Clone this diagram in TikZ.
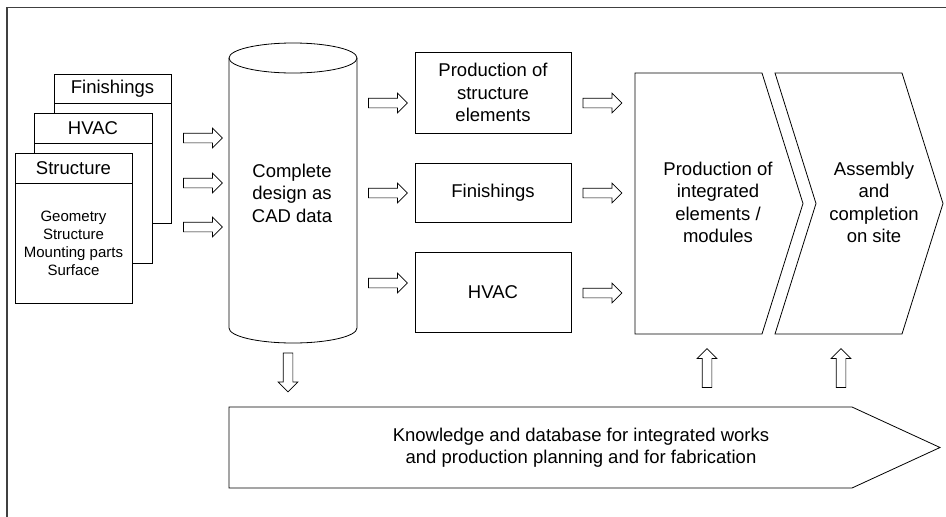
\documentclass[tikz,border=0pt]{standalone}
\usepackage{fontspec}
\setmainfont{Liberation Sans}
\usetikzlibrary{shapes.arrows}

\tikzset{
  card/.style={draw, fill=white, line width=0.8pt},
  flow/.style={single arrow, draw, line width=0.7pt, fill=white, minimum height=39pt,
    inner xsep=0pt, inner ysep=4.5pt, single arrow head extend=5pt, single arrow tip angle=90},
  big/.style={font=\fontsize{18.5}{22.5}\selectfont, align=center},
  small/.style={font=\fontsize{15}{18}\selectfont, align=center}
}

\begin{document}
\begin{tikzpicture}[x=1pt, y=-1pt]
  \useasboundingbox (0,0) rectangle (946,517);
  % frame
  \draw[line width=1.2pt, black!75] (7,517) -- (7,7.5) -- (946,7.5);
  % stacked sheets
  \draw[card] (54,74) rectangle (171,223);
  \draw[card] (54,103) -- (171,103);
  \node[big] (finsheet) at (112.5,88.5) {Finishings};
  \draw[card] (34,113) rectangle (152,263);
  \draw[card] (34,143) -- (152,143);
  \node[big] (hvacsheet) at (93,128) {HVAC};
  \draw[card] (15,153) rectangle (132,303);
  \draw[card] (15,183) -- (132,183);
  \node[big] (strsheet) at (73.5,168) {Structure};
  \node[small] (strlist) at (73.5,243) {Geometry\\Structure\\Mounting parts\\Surface};
  \node[flow] (a1) at (200.5,138) {};
  \node[flow] (a2) at (200.5,183) {};
  \node[flow] (a3) at (200.5,227) {};
  % cylinder
  \draw[card] (229,58) -- (229,328) arc [x radius=64, y radius=15, start angle=180, end angle=0]
    -- (357,58);
  \draw[card] (293,58) ellipse [x radius=64, y radius=15];
  \node[big] (cad) at (292,193) {Complete\\design as\\CAD data};
  \node[flow] (b1) at (385.5,103) {};
  \node[flow] (b2) at (385.5,193) {};
  \node[flow] (b3) at (385.5,283) {};
  % production boxes
  \draw[card] (415,52) rectangle (571,133);
  \node[big] (pstr) at (493,92.5) {Production of\\structure\\elements};
  \draw[card] (415,163) rectangle (571,222);
  \node[big] (pfin) at (493,192.5) {Finishings};
  \draw[card] (415,252) rectangle (571,332);
  \node[big] (phvac) at (493,292) {HVAC};
  \node[flow] (c1) at (600,103) {};
  \node[flow] (c2) at (600,193) {};
  \node[flow] (c3) at (600,293) {};
  % chevrons
  \draw[card] (635,73) -- (762,73) -- (803,203.5) -- (762,334) -- (635,334) -- cycle;
  \node[big] (modules) at (718,202.5) {Production of\\integrated\\elements /\\modules};
  \draw[card] (775,73) -- (902,73) -- (943,203.5) -- (902,334) -- (775,334) -- (816,203.5) -- cycle;
  \node[big] (site) at (874,202.5) {Assembly\\and\\completion\\on site};
  % knowledge base
  \node[flow, rotate=-90] (d1) at (288,370) {};
  \node[flow, rotate=90] (u1) at (707,370.5) {};
  \node[flow, rotate=90] (u2) at (841,370.5) {};
  \draw[card] (229,407) -- (852,407) -- (940,447.5) -- (852,488) -- (229,488) -- cycle;
  \node[big] (kb) at (581,447.5) {Knowledge and database for integrated works\\and production planning and for fabrication};
\end{tikzpicture}
\end{document}
